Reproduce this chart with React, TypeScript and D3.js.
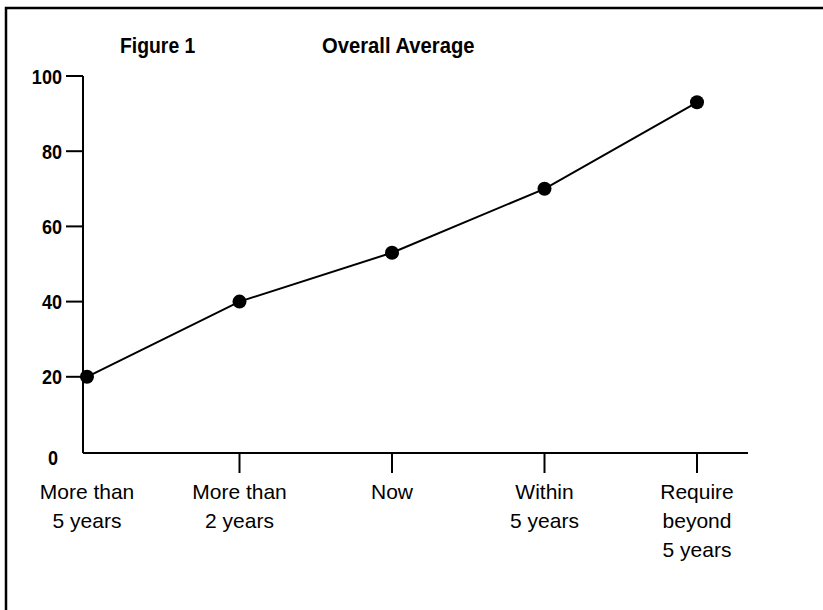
import React from "react";
import * as d3 from "d3";

const categories: string[][] = [
  ["More than", "5 years"],
  ["More than", "2 years"],
  ["Now"],
  ["Within", "5 years"],
  ["Require", "beyond", "5 years"],
];
const values: number[] = [20, 40, 53, 70, 93];
const yTicks: number[] = [0, 20, 40, 60, 80, 100];
const figureLabel = "Figure 1";
const titleText = "Overall Average";

const W = 823;
const H = 610;
const FONT = "'Liberation Sans', Arial, sans-serif";

export default function App() {
  const keys = categories.map((c) => c.join(" "));
  const x = d3.scalePoint<string>().domain(keys).range([87, 697]);
  const y = d3.scaleLinear().domain([0, 100]).range([452, 76]);
  const axisX = 83;
  const axisY = 453;
  const line = d3
    .line<number>()
    .x((_, i) => x(keys[i]) as number)
    .y((d) => y(d));

  return (
    <svg
      width={W}
      height={H}
      style={{ position: "absolute", left: 0, top: 0, background: "#fff" }}
      fontFamily={FONT}
    >
      <rect x={0} y={0} width={W} height={H} fill="#fff" />
      {/* frame */}
      <path d={`M6,${H} L6,8 L${W},8`} fill="none" stroke="#000" strokeWidth={2.5} />

      {/* titles */}
      <text transform="translate(120,53) scale(0.88,1)" fontSize={22} fontWeight="bold" fill="#000">
        {figureLabel}
      </text>
      <text transform="translate(322,53) scale(0.92,1)" fontSize={22} fontWeight="bold" fill="#000">
        {titleText}
      </text>

      {/* y axis */}
      <line x1={axisX} x2={axisX} y1={y(100)} y2={axisY} stroke="#000" strokeWidth={2} />
      {yTicks.map((t) => (
        <g key={t}>
          {t !== 0 && (
            <line x1={66} x2={axisX} y1={y(t)} y2={y(t)} stroke="#000" strokeWidth={2} />
          )}
          <text
            transform={`translate(${t === 0 ? 58 : 62},${y(t) + (t === 0 ? 5 : 0)}) scale(0.86,1)`}
            dy="0.36em"
            textAnchor="end"
            fontSize={21}
            fontWeight="bold"
            fill="#000"
          >
            {t}
          </text>
        </g>
      ))}

      {/* x axis */}
      <line x1={axisX} x2={748} y1={axisY} y2={axisY} stroke="#000" strokeWidth={2} />
      {keys.map((k, i) => (
        <g key={k}>
          {i > 0 && (
            <line
              x1={x(k)}
              x2={x(k)}
              y1={axisY}
              y2={axisY + 20}
              stroke="#000"
              strokeWidth={2}
            />
          )}
          <text textAnchor="middle" fontSize={21} fill="#000">
            {categories[i].map((ln, j) => (
              <tspan key={j} x={x(k)} y={499 + j * 29}>
                {ln}
              </tspan>
            ))}
          </text>
        </g>
      ))}

      {/* data line */}
      <path d={line(values) || ""} fill="none" stroke="#000" strokeWidth={2} />
      {values.map((v, i) => (
        <circle key={i} cx={x(keys[i])} cy={y(v)} r={7} fill="#000" />
      ))}
    </svg>
  );
}
